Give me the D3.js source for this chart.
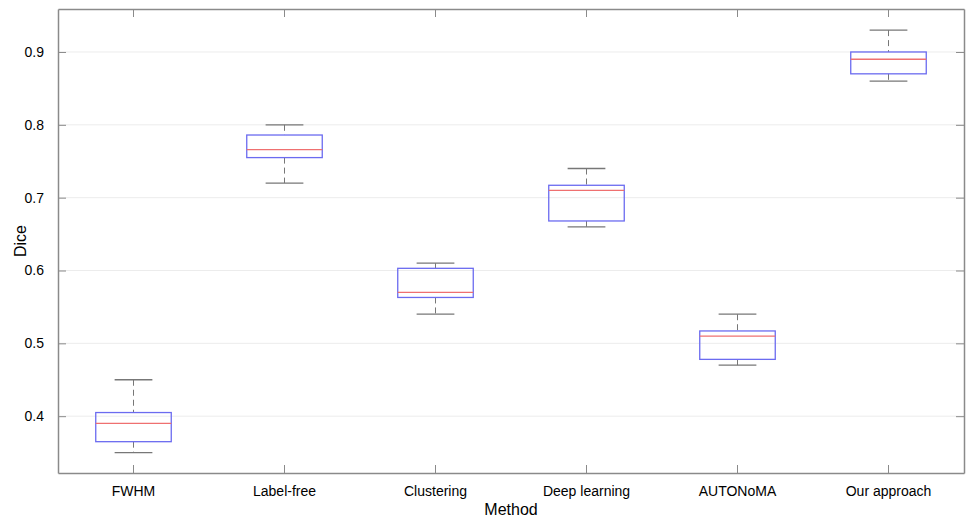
<!DOCTYPE html>
<html>
<head>
<meta charset="utf-8">
<script src="https://cdn.jsdelivr.net/npm/d3@7"></script>
<style>
  body { margin: 0; background: #fff; }
  text { font-family: "Liberation Sans", Arial, sans-serif; }
</style>
</head>
<body>
<div id="root"></div>
<script>
const width = 967;
const height = 519;

// data
const methods = ["FWHM", "Label-free", "Clustering", "Deep learning", "AUTONoMA", "Our approach"];
const whiskerLow = [0.35, 0.72, 0.54, 0.66, 0.47, 0.86];
const q1 = [0.365, 0.755, 0.563, 0.668, 0.478, 0.87];
const medians = [0.39, 0.766, 0.57, 0.71, 0.51, 0.89];
const q3 = [0.405, 0.786, 0.603, 0.717, 0.517, 0.90];
const whiskerHigh = [0.45, 0.80, 0.61, 0.74, 0.54, 0.93];
const yTicks = [0.4, 0.5, 0.6, 0.7, 0.8, 0.9];

const margin = { top: 9, right: 3, bottom: 46, left: 58 };
const innerW = width - margin.left - margin.right;
const innerH = height - margin.top - margin.bottom;

const boxes = methods.map((m, i) => ({
  method: m, lo: whiskerLow[i], q1: q1[i], med: medians[i], q3: q3[i], hi: whiskerHigh[i]
}));

const x = d3.scaleBand().domain(methods).range([0, innerW]);
const y = d3.scaleLinear().domain([0.322, 0.959]).range([innerH, 0]);

const svg = d3.select("#root").append("svg")
    .attr("width", width)
    .attr("height", height);

const g = svg.append("g")
    .attr("transform", `translate(${margin.left}, ${margin.top})`);

// grid
g.selectAll(".grid")
  .data(yTicks).enter()
  .append("line")
    .attr("x1", 0).attr("x2", innerW)
    .attr("y1", d => y(d)).attr("y2", d => y(d))
    .style("stroke", "#ececec");

const bw = x.bandwidth() * 0.5;
const cw = bw * 0.5;
const cx = d => x(d.method) + x.bandwidth() / 2;

const box = g.selectAll(".box")
  .data(boxes).enter()
  .append("g").attr("class", "box");

// whiskers
box.append("line")
    .attr("x1", cx).attr("x2", cx)
    .attr("y1", d => y(d.hi)).attr("y2", d => y(d.q3))
    .style("stroke", "#777").style("stroke-dasharray", "6,4");
box.append("line")
    .attr("x1", cx).attr("x2", cx)
    .attr("y1", d => y(d.q1)).attr("y2", d => y(d.lo))
    .style("stroke", "#777").style("stroke-dasharray", "6,4");
box.append("line")
    .attr("x1", d => cx(d) - cw / 2).attr("x2", d => cx(d) + cw / 2)
    .attr("y1", d => y(d.hi)).attr("y2", d => y(d.hi))
    .style("stroke", "#777").style("stroke-width", 1.3);
box.append("line")
    .attr("x1", d => cx(d) - cw / 2).attr("x2", d => cx(d) + cw / 2)
    .attr("y1", d => y(d.lo)).attr("y2", d => y(d.lo))
    .style("stroke", "#777").style("stroke-width", 1.3);

box.append("rect")
    .attr("x", d => cx(d) - bw / 2)
    .attr("width", bw)
    .attr("y", d => y(d.q3))
    .attr("height", d => y(d.q1) - y(d.q3))
    .style("fill", "none")
    .style("stroke", "#6b6bf0")
    .style("stroke-width", 1.3);

box.append("line")
    .attr("x1", d => cx(d) - bw / 2).attr("x2", d => cx(d) + bw / 2)
    .attr("y1", d => y(d.med)).attr("y2", d => y(d.med))
    .style("stroke", "#ef7070").style("stroke-width", 1.3);

// axes (box style, inward ticks)
const styleAxis = sel => {
  sel.selectAll("path").style("stroke", "#8a8a8a").style("stroke-width", 1.5);
  sel.selectAll("line").style("stroke", "#8a8a8a");
  sel.selectAll("text").style("fill", "#000").style("font-size", "14px");
};

g.append("g")
    .attr("transform", `translate(0, ${innerH})`)
    .call(d3.axisBottom(x).tickSizeInner(-8).tickSizeOuter(0).tickPadding(13))
    .call(styleAxis);
g.append("g")
    .call(d3.axisTop(x).tickSizeInner(-8).tickSizeOuter(0).tickFormat(""))
    .call(styleAxis);
g.append("g")
    .call(d3.axisLeft(y).tickValues(yTicks).tickFormat(d3.format(".1f")).tickSizeInner(-8).tickSizeOuter(0).tickPadding(14))
    .call(styleAxis);
g.append("g")
    .attr("transform", `translate(${innerW}, 0)`)
    .call(d3.axisRight(y).tickValues(yTicks).tickSizeInner(-8).tickSizeOuter(0).tickFormat(""))
    .call(styleAxis);

svg.append("text")
    .attr("x", margin.left + innerW / 2)
    .attr("y", height - 4)
    .attr("text-anchor", "middle")
    .style("font-size", "16px")
    .text("Method");

svg.append("text")
    .attr("transform", `translate(26, ${margin.top + innerH / 2}) rotate(-90)`)
    .attr("text-anchor", "middle")
    .style("font-size", "16px")
    .text("Dice");
</script>
</body>
</html>
